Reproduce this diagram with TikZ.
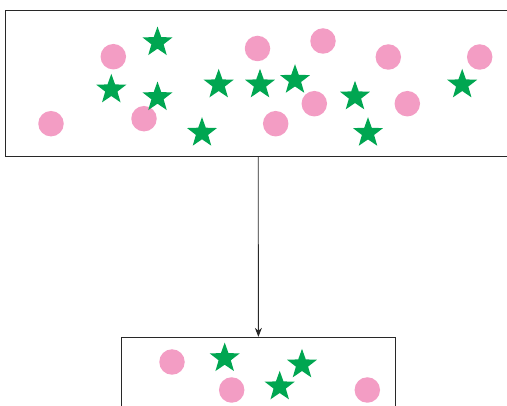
\documentclass[tikz,border=0pt]{standalone}
\usetikzlibrary{shapes.geometric,arrows.meta}
\definecolor{dotpink}{RGB}{243,157,196}
\definecolor{stargreen}{RGB}{0,166,81}
\definecolor{boxline}{RGB}{40,40,40}
\tikzset{
  dot/.style={circle,fill=dotpink,draw=none,minimum size=25.5pt,inner sep=0pt},
  gstar/.style={star,star points=5,star point ratio=2.45,fill=stargreen,draw=none,minimum size=31.5pt,inner sep=0pt},
  panel/.style={rectangle,draw=boxline,line width=0.9pt,inner sep=0pt},
  link/.style={draw=boxline,line width=0.8pt,-{Stealth[length=9pt,width=7pt]}}
}
\begin{document}
\begin{tikzpicture}[x=1pt,y=-1pt]
\useasboundingbox (0,0) rectangle (507,406);
\clip (0,0) rectangle (507,406);
% boxes
\node[panel,minimum width=506pt,minimum height=146pt] (top) at (258.3,83) {};
\node[panel,minimum width=274.6pt,minimum height=120pt] (bot) at (258.4,397.3) {};
\draw[link] (top.south) -- (bot.north);
% top circles
\node[dot] (c1) at (113.3,56.7) {};
\node[dot] (c2) at (51,123.7) {};
\node[dot] (c3) at (144,118.7) {};
\node[dot] (c4) at (257.5,48.5) {};
\node[dot] (c5) at (323,41) {};
\node[dot] (c6) at (388.3,57) {};
\node[dot] (c7) at (479.7,57) {};
\node[dot] (c8) at (314.3,103.7) {};
\node[dot] (c9) at (275.7,123.7) {};
\node[dot] (c10) at (407.3,103.7) {};
% top stars
\node[gstar] (s1) at (157.5,42.3) {};
\node[gstar] (s2) at (111.3,89.6) {};
\node[gstar] (s3) at (157.5,97.3) {};
\node[gstar] (s4) at (218.7,84.6) {};
\node[gstar] (s5) at (202,132.9) {};
\node[gstar] (s6) at (260,84.6) {};
\node[gstar] (s7) at (295,80) {};
\node[gstar] (s8) at (355,96.6) {};
\node[gstar] (s9) at (368,133) {};
\node[gstar] (s10) at (462.2,84.6) {};
% bottom circles
\node[dot] (b1) at (172,362) {};
\node[dot] (b2) at (231.7,390) {};
\node[dot] (b3) at (367.3,390) {};
% bottom stars
\node[gstar] (t1) at (224.7,358.3) {};
\node[gstar] (t2) at (302,364.6) {};
\node[gstar] (t3) at (279.7,386.6) {};
\end{tikzpicture}
\end{document}
